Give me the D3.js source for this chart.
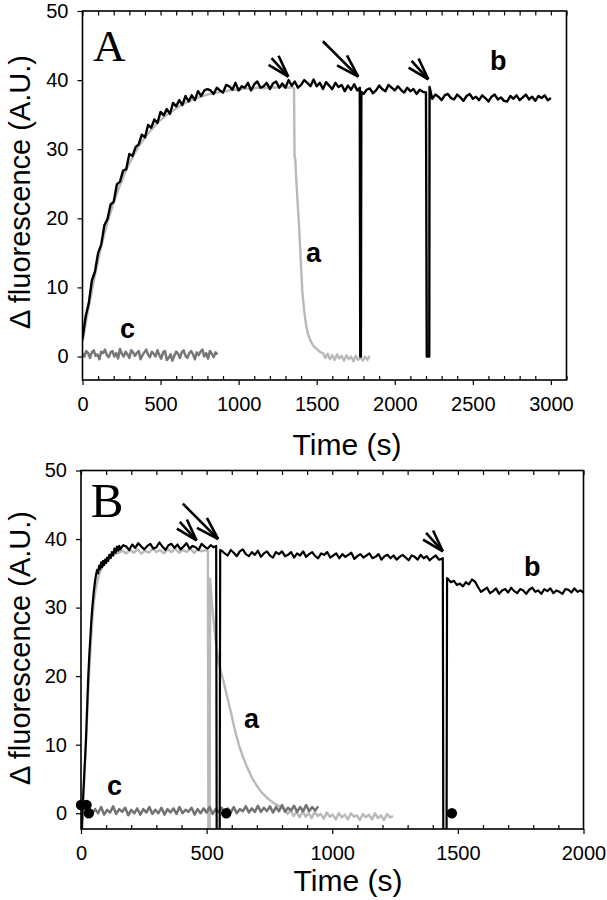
<!DOCTYPE html>
<html><head><meta charset="utf-8">
<script src="https://cdn.jsdelivr.net/npm/d3@7"></script>
<style>body{margin:0;background:#fff}svg{display:block}</style>
</head><body>
<svg id="chart" width="607" height="900"></svg>
<script>
// ---------------- DATA ----------------
const A_xTicks = [0, 500, 1000, 1500, 2000, 2500, 3000];
const A_yTicks = [0, 10, 20, 30, 40, 50];
const B_xTicks = [0, 500, 1000, 1500, 2000];
const B_yTicks = [0, 10, 20, 30, 40, 50];

// Panel A, trace b (black): t0 = 0, step 20 s
const A_b_1 = [2.5,5.8,7.7,11.0,12.3,15.0,16.2,19.0,19.9,22.0,22.4,24.9,25.3,26.9,27.1,29.3,29.0,30.3,30.7,32.1,
  31.7,33.5,33.1,34.3,33.8,35.4,34.9,35.8,35.1,36.7,36.2,37.1,36.4,37.7,36.9,37.8,37.1,38.4,37.7,38.5,
  38.7,38.5,38.0,38.9,38.5,38.2,39.3,39.1,38.6,39.6,38.5,39.1,38.9,39.6,38.5,39.4,39.8,38.9,39.1,39.6,
  38.7,39.5,39.8,38.9,39.5,38.9,40.0,39.2,39.8,38.9,39.3,40.0,39.6,39.1,40.1,39.1,39.6,38.7,39.7,39.2,
  38.7,39.6,39.0,39.3,38.4,39.2,38.6,39.4,38.5];
const A_b_drop1 = [[1776,38.9],[1779,0],[1783,0],[1786,38.3]];
// t0 = 1800, step 20
const A_b_2 = [38.0,38.6,38.8,38.1,38.5,39.2,38.7,38.4,39.3,38.9,38.5,39.1,38.6,38.2,38.9,38.4,38.7,38.0,38.6,38.3];
const A_b_drop2 = [[2200,38.2],[2205,0],[2221,0],[2223,39.0]];
// t0 = 2240, step 20
const A_b_3 = [37.3,37.9,37.6,37.1,37.8,38.0,37.4,37.2,37.9,37.5,37.0,37.7,38.0,37.3,37.6,37.1,37.8,37.4,36.9,37.6,
  37.9,37.2,37.5,37.0,36.9,37.7,37.3,37.8,37.1,37.5,37.9,37.2,37.6,37.0,37.7,37.4,37.8,37.1,37.4];

// Panel A, trace a (light grey): t0 = 0, step 40 s
const A_a_1 = [2.2,7.2,11.8,16.0,19.4,22.3,24.8,27.0,28.8,30.4,31.7,32.8,33.8,34.6,35.3,35.9,36.5,36.9,37.3,37.6,
  37.9,38.1,38.3,38.4,38.6,38.6,38.8,38.7,38.9,38.8,39.0,38.9,39.1,38.9];
const A_a_decay = [[1345,39.0],[1355,38.8],[1358,29.0],[1363,28.6],[1366,27.0],[1372,24.5],[1380,21.5],[1388,18.6],
  [1398,13.8],[1408,9.4],[1420,6.6],[1432,4.6],[1445,3.2],[1460,2.3],[1480,1.5],[1505,1.0],[1525,0.6]];
// t0 = 1540, step 15
const A_a_2 = [0.5,-0.2,0.4,-0.4,0.2,-0.5,0.3,-0.3,0.1,-0.6,0.2,-0.4,0.0,-0.7,0.1,-0.5,-0.1,-0.6,0.0,-0.5,0.1];

// Panel A, trace c (dark grey): t0 = 0, step 12 s
const A_c = [0.4,0.0,0.8,0.5,-0.2,0.6,0.9,0.1,0.3,-0.4,0.7,0.5,1.0,0.2,-0.1,0.6,0.8,0.0,0.5,-0.3,
  1.1,0.4,0.0,0.7,0.3,-0.2,0.9,0.6,0.1,0.5,0.8,-0.4,0.2,0.6,1.0,0.3,-0.1,0.7,0.4,0.0,
  0.9,0.2,-0.3,0.6,0.8,-0.5,-0.2,0.3,-0.6,0.1,0.7,0.4,-0.2,0.6,0.9,0.1,-0.2,0.5,0.8,0.3,
  -0.4,0.6,0.2,0.7,1.0,0.0,0.5,-0.3,0.8,0.4,-0.1,0.6,0.3];

// Panel B, trace b (black)
const B_b_rise = [[3,-3],[6,0.5],[10,3.5],[14,6.5],[19,10],[24,15],[29,20],[33,23],[37,25.5],[41,28],[45,30],
  [50,32],[55,33.6],[60,34.8],[64,35.5],[68,35.0],[72,36.1],[76,35.6],[80,36.6],[84,35.9],[88,36.8],[92,36.2],
  [96,37.0],[100,36.5],[104,37.3],[108,36.8],[113,37.7],[118,37.2],[123,38.1],[128,37.6],[133,38.6],[138,38.0],
  [143,38.9],[148,38.3],[152,39.0]];
// t0 = 156, step 12
const B_b_1 = [38.5,39.1,38.9,38.4,39.2,38.7,39.4,38.9,38.5,39.0,39.3,38.6,38.8,39.5,38.9,38.4,39.1,39.3,38.7,39.2,
  38.5,38.9,39.4,38.6,39.0,38.8,38.4,39.3,38.9,38.6,39.1,38.8];
const B_b_drop1 = [[538,39.0],[540,-3],[552,-3],[554,38.4]];
// t0 = 560, step 12
const B_b_2 = [38.3,37.9,37.6,38.4,38.0,37.5,38.2,38.5,37.8,37.5,38.1,37.7,38.3,37.4,37.9,38.2,37.6,37.3,38.1,37.8,
  38.2,37.5,37.7,38.1,37.3,37.9,37.6,38.2,37.4,37.8,38.1,37.5,37.2,37.9,37.7,38.1,37.3,37.6,37.9,37.2,
  37.8,37.4,37.7,38.0,37.1,37.5,37.8,37.3,37.6,37.9,37.2,37.4,37.8,37.0,37.5,37.7,37.2,37.6,37.0,37.4,
  37.7,37.3,36.9,37.6,37.4,37.0,37.7,37.2,37.5,36.9,37.3,37.6,37.0,37.1];
const B_b_drop2 = [[1440,37.2],[1442,-3],[1455,-3],[1457,34.3]];
// t0 = 1460, step 12
const B_b_3 = [34.2,33.7,33.9,33.3,33.5,33.1,33.7,33.4,34.1,33.8,33.0,32.3,32.6,32.9,32.1,32.4,32.8,32.0,32.5,32.7,
  32.2,32.9,32.4,32.1,32.7,32.5,32.0,32.6,32.9,32.3,32.5,32.0,32.7,32.4,32.8,32.1,32.5,32.3,32.0,32.7,
  32.6,32.2,32.8,32.3,32.5,32.2];

// Panel B, trace a (light grey)
const B_a_rise = [[3,-3],[7,0.5],[12,4],[17,8],[22,12],[28,17],[34,21.5],[40,25.5],[46,28.5],[52,31],[58,32.6],
  [65,33.8],[72,34.8],[80,35.6],[90,36.3],[100,36.9],[115,37.4],[130,37.8],[150,38.0]];
// t0 = 165, step 15
const B_a_1 = [38.3,37.9,38.4,38.0,38.5,37.9,38.3,38.0,38.6,38.1,38.4,37.9,38.5,38.1,38.6,38.0,38.4,38.1,38.6,38.0,
  38.5,38.2,38.4];
const B_a_decay = [[505,38.2],[507,-3],[512,-3],[514,34.2],[520,31.0],[528,28.0],[536,25.2],[545,22.6],[555,20.8],
  [565,19.6],[580,17.2],[595,15.0],[612,12.2],[630,9.8],[645,8.2],[660,6.8],[680,5.2],[700,4.0],[720,3.0],
  [745,2.1],[770,1.4],[795,0.9]];
// t0 = 810, step 12
const B_a_2 = [0.6,-0.1,0.4,-0.4,0.2,-0.6,0.3,-0.5,0.0,-0.7,0.2,-0.4,-0.1,-0.8,0.1,-0.5,-0.2,-0.9,0.0,-0.6,
  -0.2,-0.9,0.0,-0.5,-0.3,-1.0,-0.1,-0.6,-0.2,-0.9,0.0,-0.7,-0.3,-1.0,-0.1,-0.6,-0.4];

// Panel B, trace c (dark grey): t0 = 20, step 12
const B_c = [0.2,0.7,-0.1,0.6,0.0,0.9,-0.2,0.5,0.1,1.0,-0.1,0.6,0.2,0.8,-0.3,0.5,0.0,0.7,-0.2,0.6,
  0.1,0.9,-0.1,0.5,0.0,0.8,-0.2,0.6,0.1,0.7,-0.1,0.9,0.0,0.5,0.2,0.8,-0.2,0.6,0.0,0.7,
  0.1,0.9,-0.1,0.6,0.2,0.8,0.0,0.7,0.1,0.9,0.0,0.6,0.3,1.0,0.1,0.7,0.2,1.1,0.2,0.8,
  0.3,1.0,0.1,0.9,0.3,1.2,0.2,0.8,0.4,1.1,0.2,0.9,0.3,1.2,0.3,0.9,0.4,1.0];

// Panel B, filled markers
const B_dots = [[0,1.2],[22,1.2],[31,0],[578,0],[1476,0]];

// Arrows (tip position in data units)
const A_arrows = [{t:1318,v:40.5,kind:"short"},{t:1766,v:40.5,kind:"long"},{t:2215,v:40.1,kind:"short"}];
const B_arrows = [{t:460,v:39.8,kind:"short"},{t:546,v:40.0,kind:"long"},{t:1440,v:38.2,kind:"short"}];

// Curve labels (data units)
const A_labels = [{text:"b",t:2610,v:41.4},{text:"a",t:1431,v:13.7},{text:"c",t:240,v:2.7}];
const B_labels = [{text:"b",t:1763,v:34.6},{text:"a",t:649,v:12.4},{text:"c",t:103,v:2.66}];

// ---------------- helpers ----------------
function seg(t0, dt, vals){ return vals.map((v,i)=>[t0+i*dt, v]); }

const A_series = [
  {name:"a", color:"#b9b9b9", w:2.4, pts:[...seg(0,40,A_a_1), ...A_a_decay, ...seg(1540,15,A_a_2)]},
  {name:"c", color:"#777777", w:2.5, pts:seg(0,12,A_c)},
  {name:"b", color:"#000000", w:2.4, pts:[...seg(0,20,A_b_1), ...A_b_drop1, ...seg(1800,20,A_b_2), ...A_b_drop2, ...seg(2240,20,A_b_3)]}
];
const B_series = [
  {name:"a", color:"#b9b9b9", w:2.4, pts:[...B_a_rise, ...seg(165,15,B_a_1), ...B_a_decay, ...seg(810,12,B_a_2)]},
  {name:"c", color:"#727272", w:2.5, pts:seg(20,12,B_c)},
  {name:"b", color:"#000000", w:2.2, pts:[...B_b_rise, ...seg(156,12,B_b_1), ...B_b_drop1, ...seg(560,12,B_b_2), ...B_b_drop2, ...seg(1460,12,B_b_3)]}
];

const FONT = "'Liberation Sans', Arial, Helvetica, sans-serif";
const svg = d3.select("#chart");

function drawPanel(cfg){
  const {id, box, xDomain, yDomain, xTicks, yTicks, series, arrows, labels, dots, letter, xTitleX, xTitleY, yTitleY} = cfg;
  const x = d3.scaleLinear().domain(xDomain).range([box.l, box.r]);
  const y = d3.scaleLinear().domain(yDomain).range([box.b, box.t]);
  const g = svg.append("g");

  g.append("clipPath").attr("id","clip"+id).append("rect")
    .attr("x",box.l).attr("y",box.t).attr("width",box.r-box.l).attr("height",box.b-box.t);

  const plot = g.append("g").attr("clip-path","url(#clip"+id+")");
  const line = d3.line().x(d=>x(d[0])).y(d=>y(d[1]));
  series.forEach(s=>{
    plot.append("path").attr("d", line(s.pts)).attr("fill","none")
      .attr("stroke", s.color).attr("stroke-width", s.w).attr("stroke-linejoin","round");
  });

  // axes
  const hundreds = d3.range(xDomain[0], xDomain[1]+1, 100);
  const minors = hundreds.filter(v=>xTicks.indexOf(v)<0);
  const styleAxis = a => { a.select(".domain").remove(); a.selectAll("line").attr("stroke","#000").attr("stroke-width",1.2);
    a.selectAll("text").attr("font-family",FONT).attr("font-size",20).attr("fill","#000"); };

  g.append("g").attr("transform",`translate(0,${box.b})`)
    .call(d3.axisBottom(x).tickValues(xTicks).tickSize(5).tickPadding(12).tickFormat(d3.format("d"))).call(styleAxis);
  g.append("g").attr("transform",`translate(0,${box.b})`)
    .call(d3.axisBottom(x).tickValues(minors).tickSize(-4).tickFormat("")).call(styleAxis);
  g.append("g").attr("transform",`translate(0,${box.t})`)
    .call(d3.axisTop(x).tickValues(hundreds).tickSize(-4.5).tickFormat("")).call(styleAxis);
  g.append("g").attr("transform",`translate(${box.l},0)`)
    .call(d3.axisLeft(y).tickValues(yTicks).tickSize(5).tickPadding(9).tickFormat(d3.format("d"))).call(styleAxis);

  // frame
  g.append("rect").attr("x",box.l).attr("y",box.t).attr("width",box.r-box.l).attr("height",box.b-box.t)
    .attr("fill","none").attr("stroke","#000").attr("stroke-width",1.6);

  // markers (not clipped)
  if (dots) {
    g.selectAll("circle.dot").data(dots).enter().append("circle").attr("class","dot")
      .attr("cx",d=>x(d[0])).attr("cy",d=>y(d[1])).attr("r",5.2).attr("fill","#000");
  }

  // arrows
  const deg = Math.PI/180;
  arrows.forEach(a=>{
    const tx = x(a.t), ty = y(a.v);
    const th = (a.kind==="long" ? 45 : 48)*deg;
    const L = a.kind==="long" ? 50 : 25;
    const bl = a.kind==="long" ? 24 : 23;
    const spread = 17*deg;
    [[th,L],[th+spread,bl],[th-spread,bl]].forEach(([ang,len])=>{
      g.append("line").attr("x1",tx).attr("y1",ty)
        .attr("x2",tx-len*Math.cos(ang)).attr("y2",ty-len*Math.sin(ang))
        .attr("stroke","#000").attr("stroke-width",2.6).attr("stroke-linecap","butt");
    });
  });

  // curve labels
  labels.forEach(l=>{
    g.append("text").attr("x",x(l.t)).attr("y",y(l.v)).text(l.text)
      .attr("font-family",FONT).attr("font-weight","bold").attr("font-size",27).attr("fill","#000");
  });

  // panel letter
  g.append("text").attr("x",x(letter.t)).attr("y",y(letter.v)).text(letter.text)
    .attr("font-family","'Liberation Serif','Times New Roman',Times,serif").attr("font-size",letter.size).attr("fill","#000");

  // axis titles
  g.append("text").attr("x",xTitleX).attr("y",xTitleY).attr("text-anchor","middle").text("Time (s)")
    .attr("font-family",FONT).attr("font-size",30).attr("fill","#000");
  g.append("text").attr("transform",`translate(30,${yTitleY}) rotate(-90)`).attr("text-anchor","middle")
    .text("\u0394 fluorescence (A.U.)").attr("font-family",FONT).attr("font-size",29).attr("fill","#000");
}

drawPanel({
  id:"A", box:{l:82.5, r:566.5, t:11, b:380}, xDomain:[0,3100], yDomain:[-3.4,50],
  xTicks:A_xTicks, yTicks:A_yTicks, series:A_series, arrows:A_arrows, labels:A_labels, dots:null,
  letter:{text:"A", t:67, v:42.8, size:45}, xTitleX:347, xTitleY:455, yTitleY:192
});
drawPanel({
  id:"B", box:{l:81, r:583.5, t:470.5, b:829}, xDomain:[0,2000], yDomain:[-2.3,50],
  xTicks:B_xTicks, yTicks:B_yTicks, series:B_series, arrows:B_arrows, labels:B_labels, dots:B_dots,
  letter:{text:"B", t:39, v:43.2, size:49}, xTitleX:348, xTitleY:891, yTitleY:648
});
</script>
</body></html>
